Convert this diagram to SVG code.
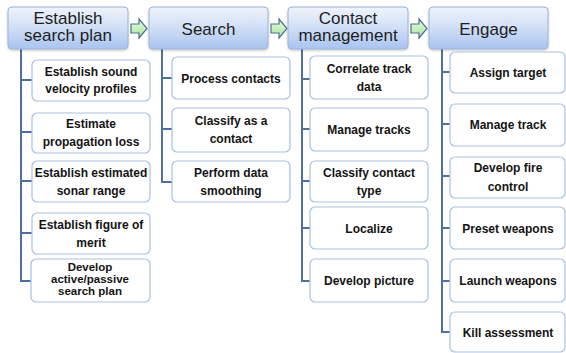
<svg xmlns="http://www.w3.org/2000/svg" width="566" height="353" viewBox="0 0 566 353">
  <defs>
    <linearGradient id="hdrFill" x1="0" y1="0" x2="0" y2="1">
      <stop offset="0" stop-color="#f0f4fc"/>
      <stop offset="0.5" stop-color="#d0def6"/>
      <stop offset="1" stop-color="#a8c4f0"/>
    </linearGradient>
    <linearGradient id="arrowFill" x1="0" y1="0" x2="0" y2="1">
      <stop offset="0" stop-color="#e6f9e0"/>
      <stop offset="1" stop-color="#a9e6a0"/>
    </linearGradient>
    <filter id="shadow" x="-10%" y="-10%" width="120%" height="130%">
      <feDropShadow dx="0" dy="1" stdDeviation="0.8" flood-color="#000" flood-opacity="0.25"/>
    </filter>
  </defs>
  <style>
    .hdr { fill: url(#hdrFill); stroke: #9cb4da; stroke-width: 1; filter: url(#shadow); }
    .hdr-text { font-family: "Liberation Sans", Arial, sans-serif; font-size: 17px; fill: #1e1e1e; text-anchor: middle; }
    .box { fill: #ffffff; stroke: #a9c0e2; stroke-width: 1.2; }
    .box-text { font-family: "Liberation Sans", Arial, sans-serif; font-size: 12px; font-weight: bold; fill: #141414; text-anchor: middle; }
    .box-text.tight { font-size: 11.5px; }
    .flow { fill: url(#arrowFill); stroke: #4d7191; stroke-width: 1.2; stroke-linejoin: miter; }
    .tree { fill: none; stroke: #4e6fa2; stroke-width: 2; }
  </style>

  <rect width="566" height="353" fill="#ffffff"/>

  <!-- tree connectors -->
  <g id="connectors">
    <path class="tree" d="M21 49 V281 H32 M21 80 H32 M21 132 H32 M21 181 H32 M21 233 H32"/>
    <path class="tree" d="M162 49 V182 H172 M162 78 H172 M162 129 H172"/>
    <path class="tree" d="M302 49 V281 H310 M302 79 H310 M302 129 H310 M302 181 H310 M302 228 H310"/>
    <path class="tree" d="M442 49 V332 H450 M442 72 H450 M442 124 H450 M442 176 H450 M442 228 H450 M442 281 H450"/>
    <!-- flow arrows between stages -->
    <path class="flow" d="M131 24 H139 V19 L147 28.5 L139 38 V33 H131 Z"/>
    <path class="flow" d="M271 24 H279 V19 L287 28.5 L279 38 V33 H271 Z"/>
    <path class="flow" d="M411 24 H419 V19 L427 28.5 L419 38 V33 H411 Z"/>
  </g>

  <!-- stage headers -->
  <g id="stage-establish">
    <rect class="hdr" x="8" y="7" width="120" height="42" rx="4"/>
    <text class="hdr-text" x="68" y="24">Establish</text>
    <text class="hdr-text" x="68" y="41">search plan</text>
  </g>
  <g id="stage-search">
    <rect class="hdr" x="149" y="7" width="119" height="42" rx="4"/>
    <text class="hdr-text" x="208.5" y="35">Search</text>
  </g>
  <g id="stage-contact">
    <rect class="hdr" x="288" y="7" width="120" height="42" rx="4"/>
    <text class="hdr-text" x="348" y="24">Contact</text>
    <text class="hdr-text" x="348" y="41">management</text>
  </g>
  <g id="stage-engage">
    <rect class="hdr" x="429" y="7" width="119" height="42" rx="4"/>
    <text class="hdr-text" x="488.5" y="35">Engage</text>
  </g>

  <!-- Establish search plan tasks -->
  <g id="task-sound-velocity">
    <rect class="box" x="32" y="60" width="118" height="41" rx="5"/>
    <text class="box-text" x="91" y="75.5">Establish sound</text>
    <text class="box-text" x="91" y="93">velocity profiles</text>
  </g>
  <g id="task-propagation-loss">
    <rect class="box" x="32" y="113" width="118" height="40" rx="5"/>
    <text class="box-text" x="91" y="128">Estimate</text>
    <text class="box-text" x="91" y="146">propagation loss</text>
  </g>
  <g id="task-sonar-range">
    <rect class="box" x="32" y="161" width="118" height="41" rx="5"/>
    <text class="box-text" x="91" y="176.5">Establish estimated</text>
    <text class="box-text" x="91" y="194.5">sonar range</text>
  </g>
  <g id="task-figure-of-merit">
    <rect class="box" x="32" y="213" width="118" height="41" rx="5"/>
    <text class="box-text" x="91" y="228.5">Establish figure of</text>
    <text class="box-text" x="91" y="246.5">merit</text>
  </g>
  <g id="task-search-plan">
    <rect class="box" x="31" y="259" width="119" height="43" rx="5"/>
    <text class="box-text tight" x="90" y="271">Develop</text>
    <text class="box-text tight" x="90" y="283">active/passive</text>
    <text class="box-text tight" x="90" y="295">search plan</text>
  </g>

  <!-- Search tasks -->
  <g id="task-process-contacts">
    <rect class="box" x="172" y="57" width="118" height="42" rx="5"/>
    <text class="box-text" x="231" y="82.5">Process contacts</text>
  </g>
  <g id="task-classify-contact">
    <rect class="box" x="172" y="108" width="118" height="44" rx="5"/>
    <text class="box-text" x="231" y="124.5">Classify as a</text>
    <text class="box-text" x="231" y="143">contact</text>
  </g>
  <g id="task-data-smoothing">
    <rect class="box" x="172" y="161" width="118" height="41" rx="5"/>
    <text class="box-text" x="231" y="176.5">Perform data</text>
    <text class="box-text" x="231" y="194.5">smoothing</text>
  </g>

  <!-- Contact management tasks -->
  <g id="task-correlate-track">
    <rect class="box" x="310" y="56" width="118" height="43" rx="5"/>
    <text class="box-text" x="369" y="72.5">Correlate track</text>
    <text class="box-text" x="369" y="91">data</text>
  </g>
  <g id="task-manage-tracks">
    <rect class="box" x="310" y="108" width="118" height="43" rx="5"/>
    <text class="box-text" x="369" y="133.5">Manage tracks</text>
  </g>
  <g id="task-classify-type">
    <rect class="box" x="310" y="161" width="118" height="41" rx="5"/>
    <text class="box-text" x="369" y="176.5">Classify contact</text>
    <text class="box-text" x="369" y="194.5">type</text>
  </g>
  <g id="task-localize">
    <rect class="box" x="310" y="207" width="118" height="42" rx="5"/>
    <text class="box-text" x="369" y="232.5">Localize</text>
  </g>
  <g id="task-develop-picture">
    <rect class="box" x="310" y="259" width="118" height="43" rx="5"/>
    <text class="box-text" x="369" y="285">Develop picture</text>
  </g>

  <!-- Engage tasks -->
  <g id="task-assign-target">
    <rect class="box" x="450" y="52" width="115" height="41" rx="5"/>
    <text class="box-text" x="508" y="77">Assign target</text>
  </g>
  <g id="task-manage-track">
    <rect class="box" x="450" y="104" width="115" height="42" rx="5"/>
    <text class="box-text" x="508" y="129">Manage track</text>
  </g>
  <g id="task-fire-control">
    <rect class="box" x="450" y="157" width="115" height="41" rx="5"/>
    <text class="box-text" x="508" y="172">Develop fire</text>
    <text class="box-text" x="508" y="191">control</text>
  </g>
  <g id="task-preset-weapons">
    <rect class="box" x="450" y="207" width="115" height="42" rx="5"/>
    <text class="box-text" x="508" y="232.5">Preset weapons</text>
  </g>
  <g id="task-launch-weapons">
    <rect class="box" x="450" y="259" width="115" height="43" rx="5"/>
    <text class="box-text" x="508" y="285">Launch weapons</text>
  </g>
  <g id="task-kill-assessment">
    <rect class="box" x="450" y="312" width="115" height="40" rx="5"/>
    <text class="box-text" x="508" y="337">Kill assessment</text>
  </g>
</svg>
